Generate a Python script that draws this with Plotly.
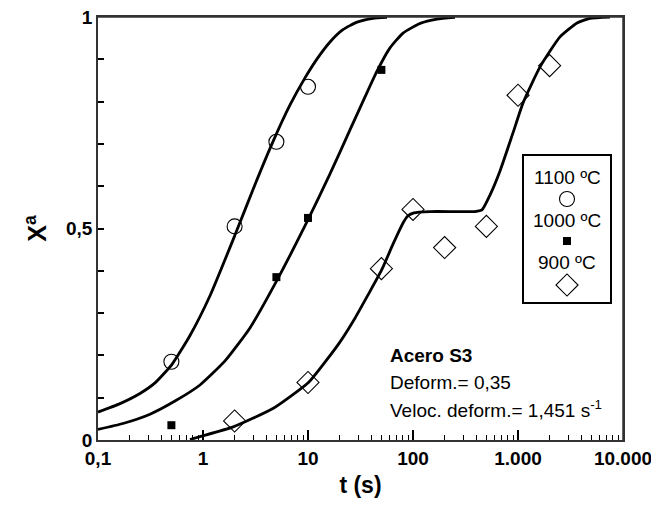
import plotly.graph_objects as go

# ---- fitted curves ----
t_fit_1100 = [0.1, 0.162, 0.251, 0.349, 0.507, 0.752, 1.166, 2.02, 3.13, 4.54, 6.74, 9.36, 12.2, 16.2, 21.5, 29.3, 41.6, 56.5]
x_fit_1100 = [0.066, 0.086, 0.110, 0.135, 0.179, 0.247, 0.341, 0.485, 0.604, 0.700, 0.792, 0.856, 0.901, 0.941, 0.970, 0.988, 0.997, 0.999]

t_fit_1000 = [0.1, 0.173, 0.313, 0.541, 0.936, 1.62, 2.80, 5.07, 10.2, 16.2, 25.1, 34.9, 45.4, 60.4, 80.4, 117, 169, 251]
x_fit_1000 = [0.025, 0.039, 0.061, 0.092, 0.130, 0.187, 0.265, 0.378, 0.525, 0.629, 0.733, 0.811, 0.872, 0.927, 0.962, 0.985, 0.995, 0.999]

t_fit_900 = [0.751, 0.936, 1.94, 4.68, 10.1, 14.5, 20.2, 28.0, 37.3, 50.3, 64.5, 80.4, 89.6, 102, 145, 251, 389, 454, 541, 674, 896, 1117, 1622, 2512, 3648, 4850, 7515]
x_fit_900 = [0.001, 0.008, 0.031, 0.075, 0.136, 0.184, 0.232, 0.288, 0.343, 0.402, 0.463, 0.513, 0.530, 0.537, 0.540, 0.540, 0.540, 0.544, 0.579, 0.636, 0.726, 0.797, 0.882, 0.953, 0.986, 0.997, 1.0]

# ---- experimental points ----
t_exp_1100 = [0.5, 2, 5, 10]
x_exp_1100 = [0.185, 0.505, 0.705, 0.835]

t_exp_1000 = [0.5, 5, 10, 50]
x_exp_1000 = [0.035, 0.385, 0.525, 0.875]

t_exp_900 = [2, 10, 50, 100, 200, 500, 1000, 2000]
x_exp_900 = [0.045, 0.136, 0.405, 0.545, 0.455, 0.505, 0.815, 0.885]

# ---- ticks ----
x_tickvals = [0.1, 1, 10, 100, 1000, 10000]
x_ticktext = ["0,1", "1", "10", "100", "1.000", "10.000"]
y_tickvals = [0, 0.5, 1]
y_ticktext = ["0", "0,5", "1"]

legend_labels = ["1100 ºC", "1000 ºC", "900 ºC"]

FONT = "Liberation Sans, Arial, sans-serif"
# page body has an 8px margin on every side: figure sits at (8, 8)
OFF = 8
L, R, T, B = 98, 623, 17, 440      # plot area in window pixels
W, H = 659 - 2 * OFF, 506 - 2 * OFF

def px(xp):
    return (xp - L) / (R - L)

def py(yp):
    return (B - yp) / (B - T)

fig = go.Figure()

line_style = dict(color="black", width=2.8, shape="spline", smoothing=0.5)
for tt, xx in [(t_fit_1100, x_fit_1100), (t_fit_1000, x_fit_1000), (t_fit_900, x_fit_900)]:
    fig.add_trace(go.Scatter(x=tt, y=xx, mode="lines", line=line_style, showlegend=False, hoverinfo="skip"))

fig.add_trace(go.Scatter(x=t_exp_1100, y=x_exp_1100, mode="markers", showlegend=False,
                         marker=dict(symbol="circle-open", size=15, color="black", line=dict(width=1.1, color="black"))))
fig.add_trace(go.Scatter(x=t_exp_1000, y=x_exp_1000, mode="markers", showlegend=False,
                         marker=dict(symbol="square", size=8, color="black")))
fig.add_trace(go.Scatter(x=t_exp_900, y=x_exp_900, mode="markers", showlegend=False,
                         marker=dict(symbol="diamond-open", size=17, color="black", line=dict(width=1.1, color="black"))))

# legend symbols on overlay axes
leg_x = px(567)
fig.add_trace(go.Scatter(x=[leg_x], y=[py(199)], xaxis="x2", yaxis="y2", mode="markers", showlegend=False,
                         marker=dict(symbol="circle-open", size=15, color="black", line=dict(width=1.1, color="black"))))
fig.add_trace(go.Scatter(x=[leg_x], y=[py(241)], xaxis="x2", yaxis="y2", mode="markers", showlegend=False,
                         marker=dict(symbol="square", size=8, color="black")))
fig.add_trace(go.Scatter(x=[leg_x], y=[py(285)], xaxis="x2", yaxis="y2", mode="markers", showlegend=False,
                         marker=dict(symbol="diamond-open", size=17, color="black", line=dict(width=1.1, color="black"))))

annotations = []
for lab, yy in zip(legend_labels, [177, 220, 263]):
    annotations.append(dict(x=leg_x, y=py(yy), xref="paper", yref="paper", text=lab, showarrow=False,
                            xanchor="center", yanchor="middle", font=dict(family=FONT, size=19, color="black")))

annotations.append(dict(x=px(388), y=py(355), xref="paper", yref="paper", text="<b>Acero S3</b>", showarrow=False,
                        xanchor="left", yanchor="middle", font=dict(family=FONT, size=19, color="black")))
annotations.append(dict(x=px(388), y=py(382), xref="paper", yref="paper", text="Deform.= 0,35", showarrow=False,
                        xanchor="left", yanchor="middle", font=dict(family=FONT, size=19, color="black")))
annotations.append(dict(x=px(388), y=py(409), xref="paper", yref="paper", text="Veloc. deform.= 1,451 s<sup>-1</sup>",
                        showarrow=False, xanchor="left", yanchor="middle", font=dict(family=FONT, size=19, color="black")))

axis_color = "#333333"
shapes = [dict(type="rect", xref="paper", yref="paper", x0=px(523), x1=px(611), y0=py(155), y1=py(303),
               line=dict(color="black", width=2), fillcolor="rgba(0,0,0,0)"),
          # frame (top and right edges)
          dict(type="line", xref="paper", yref="paper", x0=0, x1=1, y0=1, y1=1,
               line=dict(color=axis_color, width=1.5)),
          dict(type="line", xref="paper", yref="paper", x0=1, x1=1, y0=0, y1=1,
               line=dict(color=axis_color, width=1.5))]

fig.update_layout(
    width=W, height=H,
    margin=dict(l=L - OFF, r=(W + OFF - R), t=T - OFF, b=(H + OFF - B), pad=0),
    paper_bgcolor="white", plot_bgcolor="white",
    showlegend=False,
    annotations=annotations,
    shapes=shapes,
    xaxis=dict(type="log", range=[-1, 4], showgrid=False, zeroline=False, automargin=False,
               showline=True, linecolor=axis_color, linewidth=1.5, mirror=True,
               tickmode="array", tickvals=x_tickvals, ticktext=x_ticktext, ticklabeloverflow="allow",
               ticks="inside", ticklen=10, tickwidth=1.5, tickcolor="black",
               minor=dict(ticks="inside", ticklen=5, tickwidth=1.3, tickcolor="black", dtick="D1", showgrid=False),
               tickfont=dict(family=FONT, size=19, color="black", weight="bold"),
               title=dict(text="<b>t (s)</b>", font=dict(family=FONT, size=23, color="black"), standoff=14)),
    yaxis=dict(range=[0, 1], showgrid=False, zeroline=False, automargin=False,
               showline=True, linecolor=axis_color, linewidth=1.5, mirror=True,
               tickmode="array", tickvals=y_tickvals, ticktext=y_ticktext, ticklabeloverflow="allow",
               ticks="inside", ticklen=6, tickwidth=1.5, tickcolor="black",
               minor=dict(ticks="inside", ticklen=6, tickwidth=1.5, tickcolor="black", dtick=0.1, showgrid=False),
               tickfont=dict(family=FONT, size=19, color="black", weight="bold"),
               title=dict(text="<b>X<sup>a</sup></b>", font=dict(family=FONT, size=25, color="black"), standoff=12)),
    xaxis2=dict(overlaying="x", range=[0, 1], visible=False),
    yaxis2=dict(overlaying="y", range=[0, 1], visible=False),
)

fig.write_html("out.html")
